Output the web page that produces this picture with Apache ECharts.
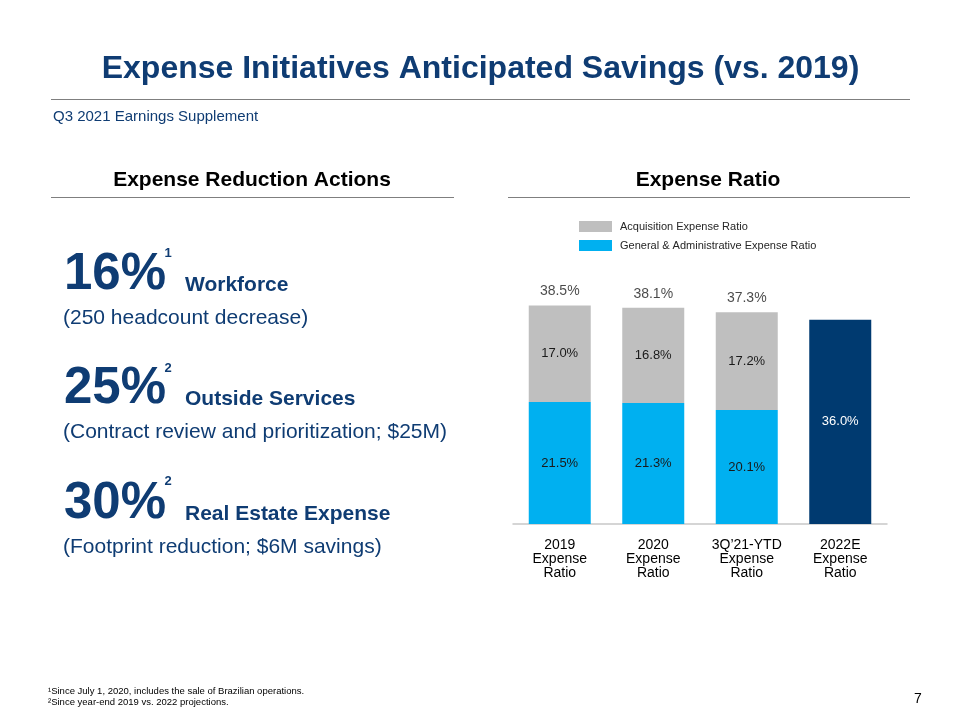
<!DOCTYPE html>
<html>
<head>
<meta charset="utf-8">
<script src="https://cdn.jsdelivr.net/npm/echarts@6/dist/echarts.min.js"></script>
<style>
html,body{margin:0;padding:0;background:#fff;}
#chart{width:960px;height:720px;}
</style>
</head>
<body>
<div id="chart"></div>
<script>
var categories = ['2019\nExpense\nRatio', '2020\nExpense\nRatio', '3Q\u201921-YTD\nExpense\nRatio', '2022E\nExpense\nRatio'];
var gaValues = [21.5, 21.3, 20.1, null];
var acqValues = [17.0, 16.8, 17.2, null];
var projValues = [null, null, null, 36.0];
var totalValues = [38.5, 38.1, 37.3, null];
var seriesNames = ['Acquisition Expense Ratio', 'General & Administrative Expense Ratio', '2022E Expense Ratio'];

var NAVY = '#0F3C73';
var FONT = '"Liberation Sans", Arial, sans-serif';
var chart = echarts.init(document.getElementById('chart'), null, {renderer: 'canvas'});

function txt(t, x, y, size, weight, color, align) {
  return {type: 'text', x: x, y: y, style: {text: t, font: weight + ' ' + size + 'px ' + FONT, fill: color, textAlign: align || 'left', textVerticalAlign: 'middle'}};
}
function line(x1, y1, x2, y2) {
  return {type: 'line', shape: {x1: x1, y1: y1, x2: x2, y2: y2}, style: {stroke: '#7F7F7F', lineWidth: 1.2}};
}

var pct = function (v) { return v == null ? '' : v.toFixed(1) + '%'; };

var option = {
  animation: false,
  backgroundColor: '#ffffff',
  grid: {left: 513, right: 73, top: 297, bottom: 196},
  legend: {
    orient: 'vertical', left: 574, top: 216,
    data: [seriesNames[0], seriesNames[1]],
    itemWidth: 33, itemHeight: 11, itemGap: 8,
    icon: 'rect',
    textStyle: {fontFamily: FONT, fontSize: 11, color: '#262626', padding: [0, 0, 0, 3]}
  },
  xAxis: {
    type: 'category', data: categories,
    axisLine: {lineStyle: {color: '#C8C8C8', width: 1.5}},
    axisTick: {show: false},
    axisLabel: {fontFamily: FONT, fontSize: 14, lineHeight: 14, color: '#000', margin: 14, interval: 0}
  },
  yAxis: {type: 'value', min: 0, max: 40, show: false, splitLine: {show: false}},
  series: [
    {
      name: seriesNames[1], type: 'bar', stack: 'a', barWidth: 62, data: gaValues,
      itemStyle: {color: '#00B0F0'},
      label: {show: true, position: 'inside', fontFamily: FONT, fontSize: 13, color: '#1a1a1a', formatter: function (p) { return pct(p.value); }}
    },
    {
      name: seriesNames[0], type: 'bar', stack: 'a', barWidth: 62, data: acqValues,
      itemStyle: {color: '#BFBFBF'},
      label: {show: true, position: 'inside', fontFamily: FONT, fontSize: 13, color: '#1a1a1a', formatter: function (p) { return pct(p.value); }}
    },
    {
      name: seriesNames[2], type: 'bar', stack: 'a', barWidth: 62, data: projValues,
      itemStyle: {color: '#003A70'},
      label: {show: true, position: 'inside', fontFamily: FONT, fontSize: 13, color: '#ffffff', formatter: function (p) { return pct(p.value); }}
    },
    {
      name: 'Total', type: 'scatter', data: totalValues, symbolSize: 0, silent: true,
      label: {show: true, position: 'top', distance: 7, fontFamily: FONT, fontSize: 14, color: '#1a1a1a', formatter: function (p) { return pct(p.value); }}
    }
  ],
  graphic: [
    txt('Expense Initiatives Anticipated Savings (vs. 2019)', 480.5, 69, 32, 'bold', NAVY, 'center'),
    line(51, 99.5, 910, 99.5),
    txt('Q3 2021 Earnings Supplement', 53, 117, 15, 'normal', NAVY),
    txt('Expense Reduction Actions', 252, 180, 21, 'bold', '#000', 'center'),
    txt('Expense Ratio', 708, 180, 21, 'bold', '#000', 'center'),
    line(51, 197.5, 454, 197.5),
    line(508, 197.5, 910, 197.5),

    txt('16%', 64, 275, 51, 'bold', NAVY),
    txt('1', 168, 253, 13, 'bold', NAVY, 'center'),
    txt('Workforce', 185, 285.3, 21, 'bold', NAVY),
    txt('(250 headcount decrease)', 63, 318.2, 21, 'normal', NAVY),

    txt('25%', 64, 389, 51, 'bold', NAVY),
    txt('2', 168, 368, 13, 'bold', NAVY, 'center'),
    txt('Outside Services', 185, 399.3, 21, 'bold', NAVY),
    txt('(Contract review and prioritization; $25M)', 63, 432.7, 21, 'normal', NAVY),

    txt('30%', 64, 504, 51, 'bold', NAVY),
    txt('2', 168, 481, 13, 'bold', NAVY, 'center'),
    txt('Real Estate Expense', 185, 514.7, 21, 'bold', NAVY),
    txt('(Footprint reduction; $6M savings)', 63, 547.7, 21, 'normal', NAVY),

    txt('\u00B9Since July 1, 2020, includes the sale of Brazilian operations.', 48, 691.5, 9.5, 'normal', '#000'),
    txt('\u00B2Since year-end 2019 vs. 2022 projections.', 48, 702, 9.5, 'normal', '#000'),
    txt('7', 918, 699, 14, 'normal', '#000', 'center')
  ]
};
chart.setOption(option);
</script>
</body>
</html>
